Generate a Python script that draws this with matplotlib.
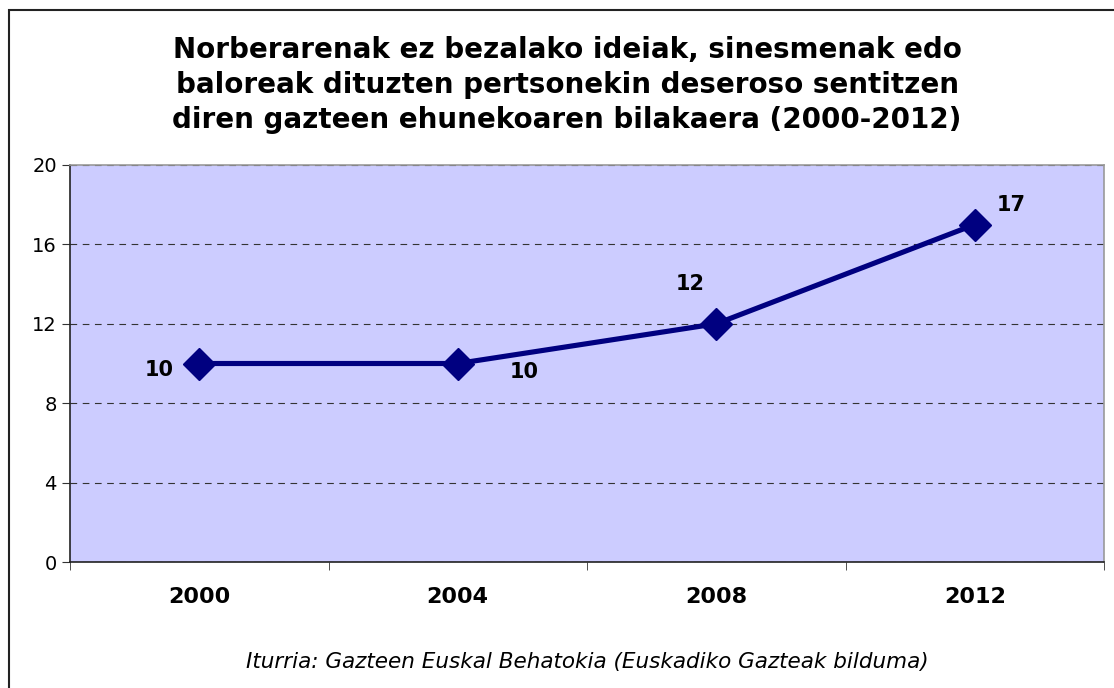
import matplotlib.pyplot as plt
from matplotlib.patches import Rectangle

years = ["2000", "2004", "2008", "2012"]
values = [10, 10, 12, 17]
label_offsets = [(-40, -7), (66, -9), (-26, 40), (36, 20)]

title = ("Norberarenak ez bezalako ideiak, sinesmenak edo\n"
         "baloreak dituzten pertsonekin deseroso sentitzen\n"
         "diren gazteen ehunekoaren bilakaera (2000-2012)")
source = "Iturria: Gazteen Euskal Behatokia (Euskadiko Gazteak bilduma)"

fig = plt.figure(figsize=(11.14, 6.88), dpi=100)
ax = fig.add_axes([70/1114, 126/688, 1034/1114, 397/688])
ax.set_facecolor("#CCCCFF")

x = range(len(years))
ax.plot(x, values, color="#000080", lw=3.7, marker="D", ms=16, zorder=3)

for i, v in enumerate(values):
    dx, dy = label_offsets[i]
    ax.annotate(str(v), (i, v), xytext=(dx, dy), textcoords="offset pixels",
                ha="center", va="center", fontsize=15, fontweight="bold")

ax.set_xlim(-0.5, len(years) - 0.5)
ax.set_ylim(0, 20)
ax.set_yticks(range(0, 21, 4))
ax.set_xticks(list(x))
ax.set_xticklabels(years, fontsize=16, fontweight="bold")
ax.set_xticks([i - 0.5 for i in range(len(years) + 1)], minor=True)
ax.tick_params(axis="x", which="major", length=0, pad=18)
ax.tick_params(axis="x", which="minor", length=6, color="#333333")
ax.tick_params(axis="y", labelsize=14, length=6, color="#333333")
ax.grid(axis="y", color="#333333", ls=(0, (6, 5)), lw=0.8)
ax.spines["left"].set_color("#222222")
ax.spines["bottom"].set_color("#222222")
ax.spines["top"].set_color("#999999")
ax.spines["right"].set_color("#999999")
for s in ax.spines.values():
    s.set_linewidth(1.2)

fig.text(567/1114, 1 - 85/688, title, ha="center", va="center", fontsize=20,
         fontweight="bold", linespacing=1.33)
fig.text(587/1114, 1 - 662/688, source, ha="center", va="center", fontsize=15.5,
         style="italic")

fig.patches.append(Rectangle((9/1114, -0.1), 1.2, 0.1 + 678/688, fill=False,
                             lw=1.5, ec="#222222", transform=fig.transFigure))

fig.savefig("out.png", dpi=100)
